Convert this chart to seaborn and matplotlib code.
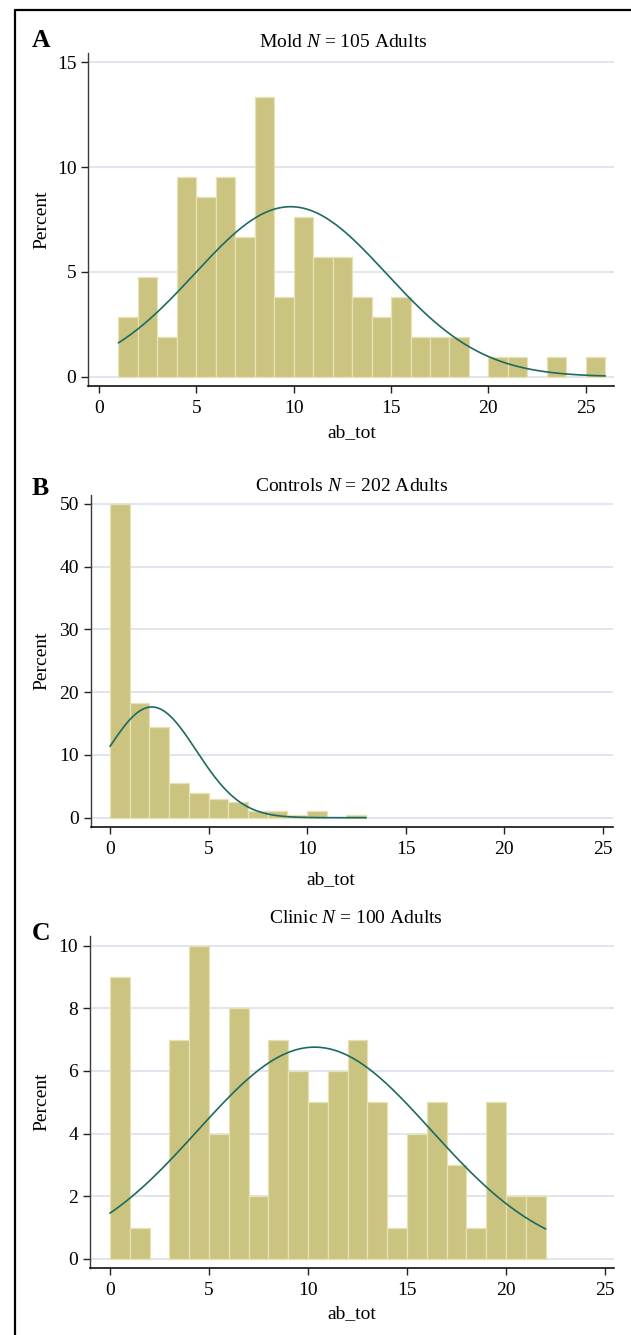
import numpy as np
import pandas as pd
import matplotlib
matplotlib.use("Agg")
import matplotlib.pyplot as plt
from matplotlib.lines import Line2D
import seaborn as sns

# ---------------- data ----------------
bin_width = 1
A_start = 1
A_pct = [2.86, 4.76, 1.90, 9.52, 8.57, 9.52, 6.67, 13.33, 3.81, 7.62, 5.71, 5.71,
         3.81, 2.86, 3.81, 1.90, 1.90, 1.90, 0, 0.95, 0.95, 0, 0.95, 0, 0.95]
B_start = 0
B_pct = [50.0, 18.3, 14.4, 5.5, 4.0, 2.95, 2.45, 1.0, 1.0, 0.5, 1.0, 0, 0.5]
C_start = 0
C_pct = [9, 1, 0, 7, 10, 4, 8, 2, 7, 6, 5, 6, 7, 5, 1, 4, 5, 3, 1, 5, 2, 2]

# fitted normal curves (mean, sd, x-range)
A_norm = (9.84, 4.92, 1, 26)
B_norm = (2.12, 2.26, 0, 13)
C_norm = (10.33, 5.90, 0, 22)

titles = ["Mold", "Controls", "Clinic"]
Ns = [105, 202, 100]
panel_letters = ["A", "B", "C"]
x_ticks = [0, 5, 10, 15, 20, 25]
A_yticks = [0, 5, 10, 15]
B_yticks = [0, 10, 20, 30, 40, 50]
C_yticks = [0, 2, 4, 6, 8, 10]
x_label = "ab_tot"
y_label = "Percent"

# ---------------- style ----------------
sns.set_style("white")
plt.rcParams["font.family"] = ["Liberation Serif", "DejaVu Serif"]
plt.rcParams["mathtext.fontset"] = "custom"
plt.rcParams["mathtext.it"] = "Liberation Serif:italic"
plt.rcParams["mathtext.rm"] = "Liberation Serif"
plt.rcParams["text.color"] = "black"
plt.rcParams["xtick.labelcolor"] = "black"
plt.rcParams["ytick.labelcolor"] = "black"

FILL = "#CBC480"
EDGE = "#E6E2B6"
CURVE = "#1E6A60"
GRID = "#DDE3EE"
FS = 14

W, H = 631, 1335
fig = plt.figure(figsize=(W / 100, H / 100), dpi=100)
fig.patch.set_facecolor("white")


def fx(px):
    return px / W


def fy(py):
    return 1 - py / H


# layout in pixels: left, right, top, bottom, xlim, ylim
panels = [
    dict(pct=A_pct, start=A_start, norm=A_norm, yticks=A_yticks,
         l=88.3, r=614, t=53, b=386, xlim=(-0.55, 26.45), ylim=(-0.444, 15.44),
         title_xy=(343, 47), letter_xy=(32, 47), xlab_xy=(352, 437), ylab_xy=(42, 219.5)),
    dict(pct=B_pct, start=B_start, norm=B_norm, yticks=B_yticks,
         l=90.7, r=613, t=495, b=826.7, xlim=(-0.98, 25.53), ylim=(-1.43, 51.43),
         title_xy=(352, 491), letter_xy=(32, 495), xlab_xy=(331, 884), ylab_xy=(42, 661)),
    dict(pct=C_pct, start=C_start, norm=C_norm, yticks=C_yticks,
         l=90, r=614, t=936, b=1268.3, xlim=(-1.01, 25.45), ylim=(-0.30, 10.31),
         title_xy=(356, 923), letter_xy=(32, 940), xlab_xy=(352, 1318), ylab_xy=(42, 1102)),
]

for i, p in enumerate(panels):
    ax = fig.add_axes([fx(p["l"]), fy(p["b"]), fx(p["r"] - p["l"]), (p["b"] - p["t"]) / H])
    pct = np.array(p["pct"], dtype=float)
    n = len(pct)
    lo_edge = p["start"]
    hi_edge = p["start"] + bin_width * n
    centers = lo_edge + bin_width * (np.arange(n) + 0.5)
    df = pd.DataFrame({"x": centers, "pct": pct})
    sns.histplot(data=df, x="x", weights="pct", binwidth=bin_width,
                 binrange=(lo_edge, hi_edge), stat="count", ax=ax,
                 color=FILL, edgecolor=EDGE, linewidth=0.9, alpha=1.0)
    for patch in list(ax.patches):
        if patch.get_height() <= 0:
            patch.remove()

    mu, sd, lo, hi = p["norm"]
    xs = np.linspace(lo, hi, 400)
    ys = 100 * bin_width / (sd * np.sqrt(2 * np.pi)) * np.exp(-0.5 * ((xs - mu) / sd) ** 2)
    sns.lineplot(x=xs, y=ys, ax=ax, color=CURVE, linewidth=1.2)

    ax.set_xlim(*p["xlim"])
    ax.set_ylim(*p["ylim"])
    ax.set_xticks(x_ticks)
    ax.set_yticks(p["yticks"])
    ax.set_xlabel("")
    ax.set_ylabel("")
    ax.yaxis.grid(True, color=GRID, linewidth=1.3)
    ax.xaxis.grid(False)
    ax.set_axisbelow(True)
    for s in ["top", "right"]:
        ax.spines[s].set_visible(False)
    ax.spines["left"].set_color("#3a3a3a")
    ax.spines["left"].set_linewidth(1.0)
    ax.spines["bottom"].set_color("#111111")
    ax.spines["bottom"].set_linewidth(1.2)
    ax.tick_params(axis="y", direction="out", length=5, width=1.0, color="#222222",
                   labelsize=FS, pad=3.5, left=True, labelcolor="black")
    ax.tick_params(axis="x", direction="out", length=5, width=1.0, color="#222222",
                   labelsize=FS, pad=5, bottom=True, labelcolor="black")
    ax.set_facecolor("white")

    # texts
    tx, ty = p["title_xy"]
    fig.text(fx(tx), fy(ty), f"{titles[i]} $N$ = {Ns[i]} Adults", ha="center",
             va="baseline", fontsize=FS, color="black")
    lx, ly = p["letter_xy"]
    fig.text(fx(lx), fy(ly), panel_letters[i], ha="left", va="baseline",
             fontsize=18.5, fontweight="bold", color="black")
    xx, xy = p["xlab_xy"]
    fig.text(fx(xx), fy(xy), x_label, ha="center", va="baseline", fontsize=FS, color="black")
    yx, yy = p["ylab_xy"]
    fig.text(fx(yx), fy(yy), y_label, ha="center", va="center", rotation=90,
             fontsize=FS, color="black")

# black frame lines (left and top)
fig.add_artist(Line2D([fx(15), fx(15)], [fy(10), 0], transform=fig.transFigure,
                      color="black", linewidth=1.6))
fig.add_artist(Line2D([fx(15), 1], [fy(10), fy(10)], transform=fig.transFigure,
                      color="black", linewidth=1.6))

fig.savefig("out.png", dpi=100, facecolor="white")
